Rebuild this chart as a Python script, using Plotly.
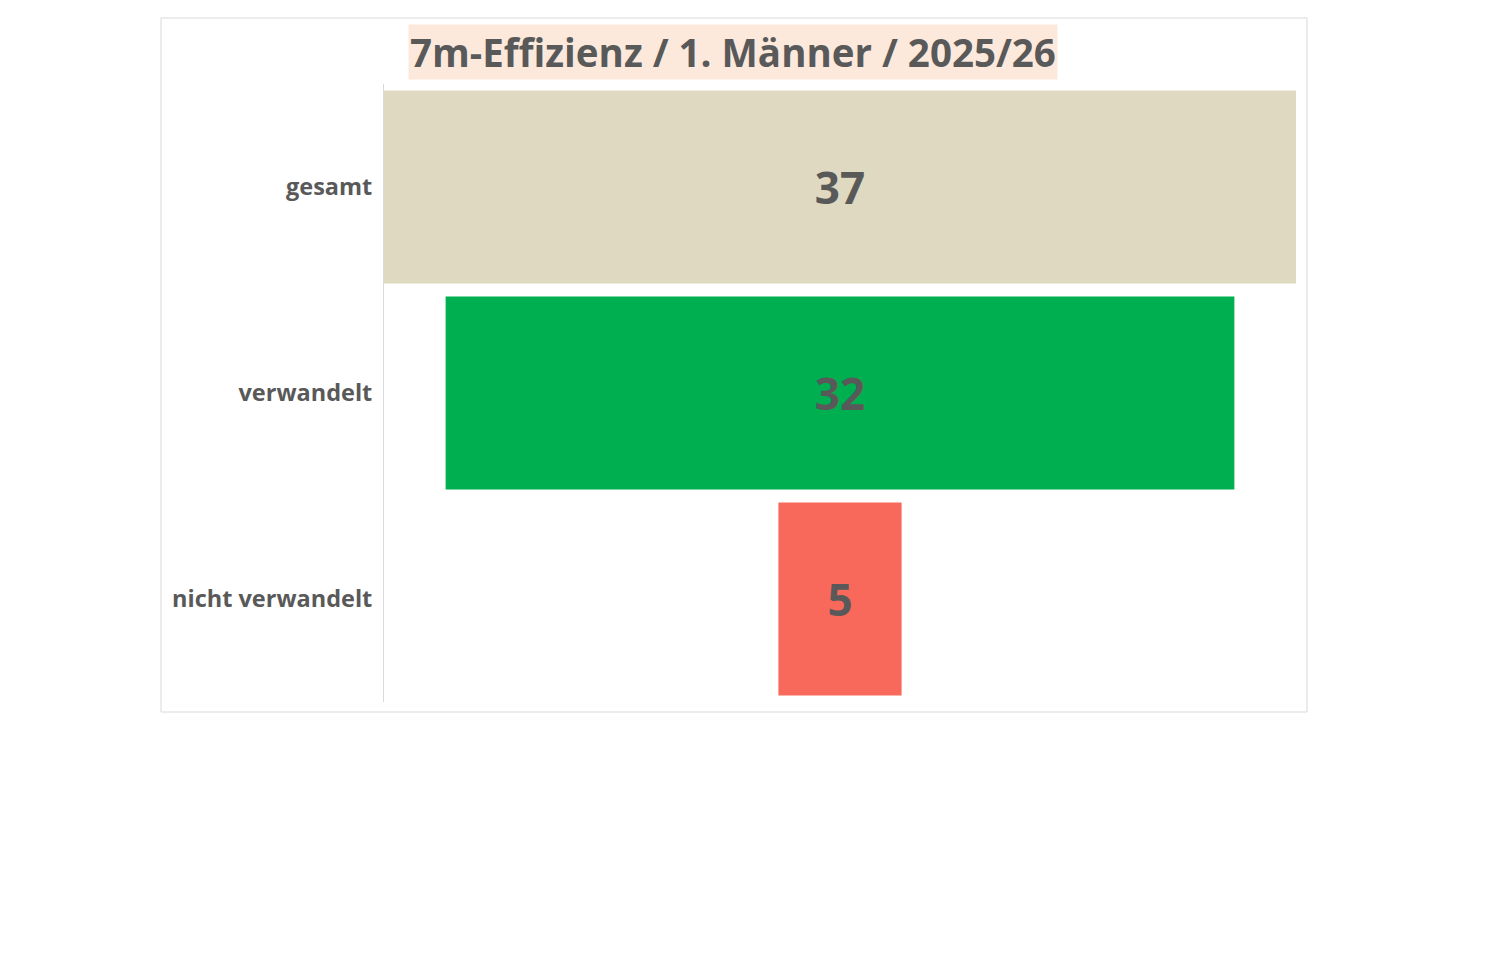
import plotly.graph_objects as go

categories = ["gesamt", "verwandelt", "nicht verwandelt"]
values = [37, 32, 5]
colors = ["#DFD9C2", "#00B050", "#F8695C"]
title_text = "7m-Effizienz / 1. Männer / 2025/26"

W, H = 1498, 976
OFF = 8  # page body margin
L, R, T, B = 384 - OFF, 1296 - OFF, 84 - OFF, 702 - OFF
PW, PH = R - L, B - T

fig = go.Figure(go.Funnel(
    y=categories,
    x=values,
    marker=dict(color=colors, line=dict(width=0)),
    texttemplate="<b>%{value}</b>",
    textposition="inside",
    textfont=dict(family="Open Sans", size=44, color="#595959"),
    insidetextanchor="middle",
    connector=dict(visible=False),
    hoverinfo="y+x",
))

def px_x(x):
    return (x - OFF - L) / PW

def px_y(y):
    return (B - (y - OFF)) / PH

fig.update_layout(
    width=W, height=H,
    paper_bgcolor="white",
    plot_bgcolor="white",
    margin=dict(l=L, r=W - R, t=T, b=H - B, pad=0),
    funnelgap=0.063,
    showlegend=False,
    xaxis=dict(visible=False, range=[-18.5, 18.5], fixedrange=True),
    yaxis=dict(
        showline=True, linecolor="#D9D9D9", linewidth=1,
        showgrid=False, zeroline=False, ticks="",
        ticklabelstandoff=6,
        tickfont=dict(family="Open Sans", size=23.5, color="#595959", weight="bold"),
    ),
    shapes=[dict(type="rect", xref="paper", yref="paper",
                 x0=px_x(161), x1=px_x(1307),
                 y0=px_y(712), y1=px_y(18),
                 line=dict(color="#D9D9D9", width=1), fillcolor="rgba(0,0,0,0)",
                 layer="below")],
    annotations=[dict(
        text="<b>" + title_text + "</b>",
        xref="paper", yref="paper",
        x=px_x(733), y=px_y(52),
        xanchor="center", yanchor="middle",
        showarrow=False,
        font=dict(family="Open Sans", size=38.5, color="#595959"),
        bgcolor="#FDE9DC", borderpad=1,
    )],
)

fig.write_html("out.html")
